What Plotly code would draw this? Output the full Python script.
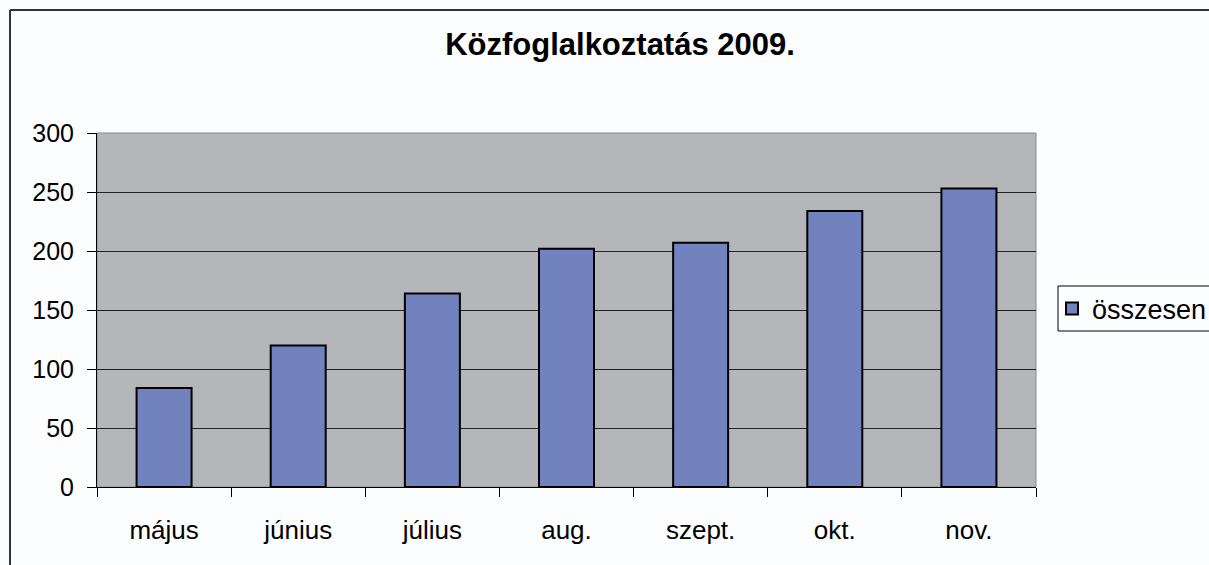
import plotly.graph_objects as go

months = ["május", "június", "július", "aug.", "szept.", "okt.", "nov."]
values = [84, 120, 164, 202, 207, 234, 253]
series_name = "összesen"
title_text = "Közfoglalkoztatás 2009."
y_ticks = [0, 50, 100, 150, 200, 250, 300]

W, H = 1209, 565
# plot area in page pixels
L, R, T, B = 97, 1036, 133, 487
pw, ph = R - L, B - T

def px_x(p):
    return (p - L) / pw

def px_y(p):
    return (B - p) / ph

fig = go.Figure()
fig.add_trace(go.Bar(
    x=months, y=values, name=series_name,
    marker=dict(color="#7182be", line=dict(color="#000000", width=2)),
    showlegend=True,
))

FONT = "Liberation Sans, Arial, sans-serif"

def seg(x0, y0, x1, y1, color, width):
    return dict(type="line", xref="paper", yref="paper",
                x0=px_x(x0), y0=px_y(y0), x1=px_x(x1), y1=px_y(y1),
                line=dict(color=color, width=width))

fig.update_layout(
    width=W, height=H,
    margin=dict(l=L, r=W - R, t=T, b=H - B, autoexpand=False),
    paper_bgcolor="#fcfdff",
    plot_bgcolor="#b5b6ba",
    bargap=0.59,
    font=dict(family=FONT, size=25, color="#000000"),
    title=dict(text="<b>" + title_text + "</b>", x=620 / W, xanchor="center",
               y=1 - 44 / H, yanchor="middle",
               font=dict(size=31, family=FONT, color="#000000")),
    legend=dict(x=px_x(1052), xanchor="left", y=px_y(309), yanchor="middle",
                borderwidth=0, bgcolor="rgba(0,0,0,0)",
                font=dict(size=27), itemwidth=30),
    showlegend=True,
    xaxis=dict(
        showgrid=False, showline=True, linecolor="#000000", linewidth=1,
        ticks="outside", ticklen=9, tickcolor="#000000", tickson="boundaries",
        ticklabelstandoff=20, fixedrange=True, tickfont=dict(size=26),
    ),
    yaxis=dict(
        range=[0, 300], tickvals=y_ticks, showgrid=True, gridcolor="#222222", gridwidth=1,
        showline=True, linecolor="#000000", linewidth=1, zeroline=False,
        ticks="outside", ticklen=9, tickcolor="#000000", ticklabelstandoff=8,
    ),
    shapes=[
        dict(type="rect", xref="paper", yref="paper", x0=0, x1=1, y0=0, y1=1,
             line=dict(color="#8a8a8a", width=1), fillcolor="rgba(0,0,0,0)", layer="below"),
        # outer chart border (top and left only visible)
        seg(10, 10, 1209, 10, "#333333", 2),
        seg(10, 10, 10, 565, "#333333", 2),
        # legend box (open at the right, cut by the page edge)
        seg(1058, 286, 1209, 286, "#000000", 1),
        seg(1058, 331, 1209, 331, "#000000", 1),
        seg(1058, 286, 1058, 331, "#000000", 1),
    ],
)

fig.write_html(
    "out.html",
    config={"displayModeBar": False},
    post_script="document.body.style.margin='0';document.body.style.overflow='hidden';",
)
